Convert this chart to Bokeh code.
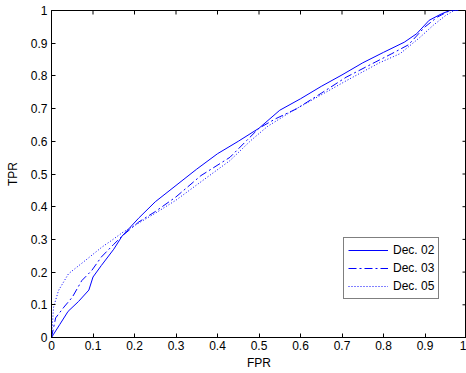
import math
from bokeh.plotting import figure
from bokeh.models import Range1d, Legend, LegendItem, FixedTicker
from bokeh.embed import file_html
from bokeh.resources import INLINE

# --- data ---
fpr02 = [0, 0.005, 0.02, 0.04, 0.065, 0.09, 0.1, 0.12, 0.15, 0.17, 0.21, 0.25, 0.3,
         0.35, 0.4, 0.45, 0.5, 0.55, 0.6, 0.65, 0.7, 0.75, 0.8, 0.85, 0.88, 0.91,
         0.94, 0.96, 0.98]
tpr02 = [0, 0.01, 0.04, 0.08, 0.11, 0.145, 0.185, 0.22, 0.27, 0.31, 0.365, 0.415,
         0.465, 0.515, 0.562, 0.6, 0.64, 0.695, 0.73, 0.768, 0.803, 0.84, 0.872,
         0.903, 0.929, 0.97, 0.99, 1.0, 1.0]

fpr03 = [0, 0.01, 0.03, 0.05, 0.073, 0.097, 0.12, 0.15, 0.17, 0.21, 0.25, 0.3,
         0.36, 0.43, 0.47, 0.5, 0.54, 0.59, 0.65, 0.71, 0.78, 0.82, 0.86, 0.9,
         0.93, 0.96, 0.98]
tpr03 = [0, 0.06, 0.093, 0.123, 0.174, 0.205, 0.246, 0.285, 0.31, 0.353, 0.385,
         0.43, 0.495, 0.551, 0.602, 0.64, 0.669, 0.699, 0.747, 0.796, 0.842, 0.868,
         0.895, 0.95, 0.98, 1.0, 1.0]

fpr05 = [0, 0.005, 0.017, 0.041, 0.081, 0.121, 0.145, 0.17, 0.21, 0.25, 0.3, 0.375,
         0.43, 0.48, 0.52, 0.575, 0.64, 0.71, 0.79, 0.84, 0.888, 0.92, 0.95, 0.97,
         0.98]
tpr05 = [0, 0.093, 0.144, 0.195, 0.235, 0.276, 0.297, 0.32, 0.35, 0.38, 0.42, 0.49,
         0.541, 0.602, 0.645, 0.689, 0.735, 0.785, 0.84, 0.868, 0.918, 0.955, 0.985,
         1.0, 1.0]

series_names = ["Dec. 02", "Dec. 03", "Dec. 05"]
ticks = [0, 0.1, 0.2, 0.3, 0.4, 0.5, 0.6, 0.7, 0.8, 0.9, 1]
tick_labels = ["0", "0.1", "0.2", "0.3", "0.4", "0.5", "0.6", "0.7", "0.8", "0.9", "1"]

FONT = "Liberation Sans"

p = figure(width=466, height=373, x_range=Range1d(0, 1), y_range=Range1d(0, 1),
           output_backend="svg", toolbar_location=None,
           min_border_left=51, min_border_right=0, min_border_top=10,
           min_border_bottom=36, x_axis_label="FPR", y_axis_label="TPR")
p.xgrid.visible = False
p.ygrid.visible = False
p.outline_line_color = "black"
p.outline_line_alpha = 1
p.background_fill_color = "white"
p.border_fill_color = "white"

overrides = {t: l for t, l in zip(ticks, tick_labels)}
for ax in p.axis:
    ax.ticker = FixedTicker(ticks=ticks)
    ax.major_tick_in = 4
    ax.major_tick_out = 0
    ax.minor_tick_in = 0
    ax.minor_tick_out = 0
    ax.axis_line_color = "black"
    ax.major_tick_line_color = "black"
    ax.major_label_text_font = FONT
    ax.major_label_text_font_size = "12px"
    ax.major_label_text_color = "black"
    ax.major_label_overrides = overrides
    ax.axis_label_text_font = FONT
    ax.axis_label_text_font_size = "12px"
    ax.axis_label_text_font_style = "normal"
    ax.axis_label_text_color = "black"

p.xaxis[0].major_label_standoff = 3
p.xaxis[0].axis_label_standoff = 3
p.yaxis[0].major_label_standoff = 4
p.yaxis[0].axis_label_standoff = 8

# inward ticks on the top and right edges of the box (clipped to the frame)
n = len(ticks)
p.scatter(x=ticks, y=[1] * n, marker="dash", size=8, angle=math.pi / 2,
          line_color="black", line_width=1)
p.scatter(x=[1] * n, y=ticks, marker="dash", size=8,
          line_color="black", line_width=1)

blue = "#0000ff"
r1 = p.line(fpr02, tpr02, line_color=blue, line_width=1)
r2 = p.line(fpr03, tpr03, line_color=blue, line_width=1, line_dash="8 3 2 3")
r3 = p.line(fpr05, tpr05, line_color=blue, line_width=1, line_dash="1 2")

legend = Legend(items=[LegendItem(label=series_names[0], renderers=[r1]),
                       LegendItem(label=series_names[1], renderers=[r2]),
                       LegendItem(label=series_names[2], renderers=[r3])],
                location=(292, 38))
legend.label_text_font = FONT
legend.label_text_font_size = "12px"
legend.label_text_color = "black"
legend.label_height = 16
legend.glyph_height = 16
legend.glyph_width = 40
legend.spacing = 2
legend.padding = 4
legend.margin = 0
legend.label_standoff = 5
legend.border_line_color = "black"
legend.border_line_width = 1
legend.background_fill_color = "white"
legend.background_fill_alpha = 1
p.add_layout(legend)

open("out.html", "w").write(file_html(p, INLINE))
